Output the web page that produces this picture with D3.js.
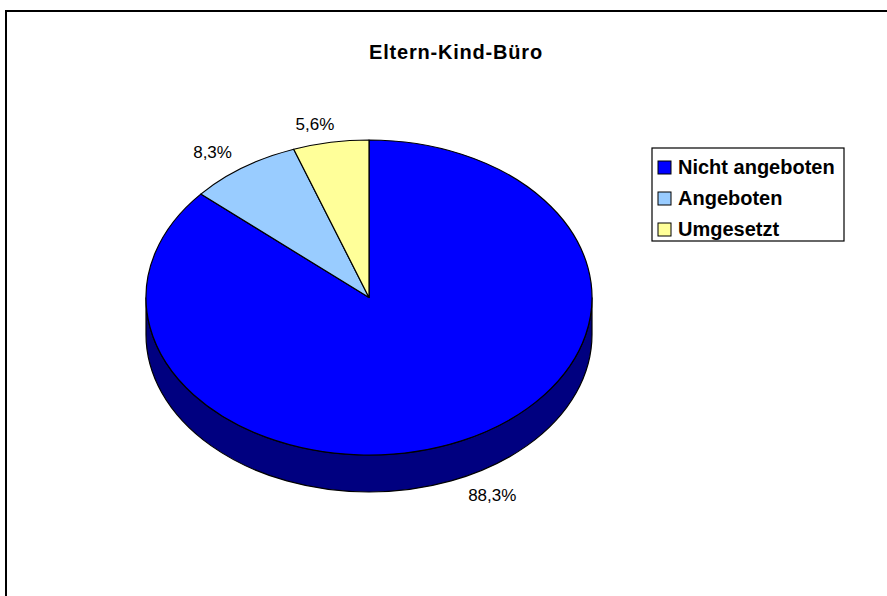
<!DOCTYPE html>
<html>
<head>
<meta charset="utf-8">
<script src="https://cdn.jsdelivr.net/npm/d3@7"></script>
<style>
  body { margin: 0; background: #fff; }
  text { font-family: 'Liberation Sans', Arial, sans-serif; }
</style>
</head>
<body>
<svg id="chart" width="887" height="596"></svg>
<script>
var title = 'Eltern-Kind-Büro';
var categories = [ 'Nicht angeboten', 'Angeboten', 'Umgesetzt' ];
var values = [ 88.3, 8.3, 5.6 ];

var svg = d3.select( '#chart' ),
  cx = 369, cy = 297.5,
  rx = 223, ry = 157.5,
  depth = 37;

var de = d3.formatLocale( { decimal: ',', thousands: '.', grouping: [ 3 ], currency: [ '', '€' ] } ),
  formatPct = de.format( '.1f' );

var z = d3.scaleOrdinal()
  .domain( categories )
  .range( [ '#0000FF', '#99CCFF', '#FFFF99' ] );

var zSide = d3.scaleOrdinal()
  .domain( categories )
  .range( [ '#000080', '#4C6680', '#80804C' ] );

// chart frame
svg.append( 'rect' )
  .attr( 'x', 6 )
  .attr( 'y', 11 )
  .attr( 'width', 1000 )
  .attr( 'height', 1000 )
  .style( 'fill', '#fff' )
  .style( 'stroke', '#000' )
  .style( 'stroke-width', 2 );

svg.append( 'text' )
  .attr( 'x', 456 )
  .attr( 'y', 52 )
  .attr( 'dy', '0.35em' )
  .attr( 'text-anchor', 'middle' )
  .style( 'font-size', 20 )
  .style( 'font-weight', 'bold' )
  .style( 'letter-spacing', '0.8px' )
  .text( title );

var pie = d3.pie().sort( null ).value( d => d.value );
var arcs = pie( categories.map( ( c, i ) => ( { name: c, value: values[ i ] } ) ) );

function pt( a, dy ) {
  return [ cx + rx * Math.sin( a ), cy - ry * Math.cos( a ) + ( dy || 0 ) ];
}

/* Side walls (front half only) */

var sides = [];
arcs.forEach( d => {
  var a0 = Math.max( d.startAngle, Math.PI / 2 ),
    a1 = Math.min( d.endAngle, 3 * Math.PI / 2 );
  if ( a1 > a0 ) sides.push( { name: d.data.name, a0: a0, a1: a1 } );
} );

svg.selectAll( '.side' )
  .data( sides )
  .enter().append( 'path' )
    .attr( 'class', 'side' )
    .attr( 'd', d => {
      var p0 = pt( d.a0 ), p1 = pt( d.a1 ),
        q1 = pt( d.a1, depth ), q0 = pt( d.a0, depth );
      return 'M' + p0 + 'A' + rx + ',' + ry + ' 0 0 1 ' + p1 +
        'L' + q1 + 'A' + rx + ',' + ry + ' 0 0 0 ' + q0 + 'Z';
    } )
    .style( 'fill', d => zSide( d.name ) )
    .style( 'stroke', '#000' )
    .style( 'stroke-width', 1.2 );

/* Top face */

svg.selectAll( '.slice' )
  .data( arcs )
  .enter().append( 'path' )
    .attr( 'class', 'slice' )
    .attr( 'd', d => {
      var p0 = pt( d.startAngle ), p1 = pt( d.endAngle ),
        large = d.endAngle - d.startAngle > Math.PI ? 1 : 0;
      return 'M' + cx + ',' + cy + 'L' + p0 + 'A' + rx + ',' + ry + ' 0 ' + large + ' 1 ' + p1 + 'Z';
    } )
    .style( 'fill', d => z( d.data.name ) )
    .style( 'stroke', '#000' )
    .style( 'stroke-width', 1.2 )
    .style( 'stroke-linejoin', 'round' );

/* Data labels */

svg.selectAll( '.pct' )
  .data( arcs )
  .enter().append( 'text' )
    .attr( 'class', 'pct' )
    .attr( 'x', d => {
      var a = ( d.startAngle + d.endAngle ) / 2,
        s = Math.sin( a );
      // labels near the top sit a bit further out sideways
      return cx + rx * ( 0.36 + 1.07 * Math.abs( Math.cos( a ) ) ) * s;
    } )
    .attr( 'y', d => {
      var a = ( d.startAngle + d.endAngle ) / 2,
        c = Math.cos( a );
      return cy - ry * 1.12 * c + ( c < 0 ? depth : 0 );
    } )
    .attr( 'dy', '0.35em' )
    .attr( 'text-anchor', 'middle' )
    .style( 'font-size', 17 )
    .style( 'fill', '#000' )
    .text( d => formatPct( d.data.value ) + '%' );

/* Legend */

var legend = svg.append( 'g' )
  .attr( 'class', 'legend' )
  .attr( 'transform', 'translate(652,148)' );

legend.append( 'rect' )
  .attr( 'width', 192 )
  .attr( 'height', 93 )
  .style( 'fill', '#fff' )
  .style( 'stroke', '#000' )
  .style( 'stroke-width', 1.2 );

var rowY = d3.scalePoint()
  .domain( categories )
  .range( [ 19, 81 ] );

var items = legend.selectAll( '.item' )
  .data( categories )
  .enter().append( 'g' )
    .attr( 'class', 'item' )
    .attr( 'transform', d => 'translate(0,' + rowY( d ) + ')' );

items.append( 'rect' )
  .attr( 'x', 6 )
  .attr( 'y', -6 )
  .attr( 'width', 13 )
  .attr( 'height', 13 )
  .style( 'fill', d => z( d ) )
  .style( 'stroke', '#000' )
  .style( 'stroke-width', 1 );

items.append( 'text' )
  .attr( 'x', 26 )
  .attr( 'dy', '0.36em' )
  .style( 'font-size', 20 )
  .style( 'font-weight', 'bold' )
  .text( d => d );
</script>
</body>
</html>
